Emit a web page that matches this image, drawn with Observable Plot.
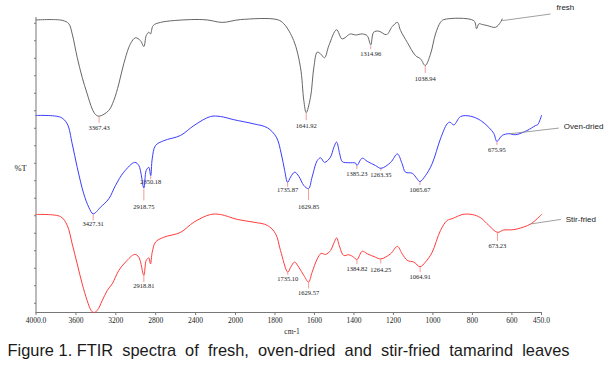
<!DOCTYPE html>
<html><head><meta charset="utf-8">
<script src="https://cdn.jsdelivr.net/npm/d3@7"></script>
<script src="https://cdn.jsdelivr.net/npm/@observablehq/plot@0.6"></script>
<style>
body{margin:0;background:#fff;}
#chart{width:614px;}
#cap{font:16.4px "Liberation Sans",Arial,sans-serif;white-space:pre;line-height:24px;height:37px;padding-left:7.5px;color:#1a1a1a;}
</style></head><body><div id="chart"></div><div id="cap"></div><script>
// x axis: wavenumber (cm-1), split scale at 2000
const xTicks = [4000,3600,3200,2800,2400,2000,1800,1600,1400,1200,1000,800,600,450];
// y axis: %T (arbitrary, unlabeled)
const yTicks = [2.65,7.65,12.65,17.65,22.65,27.65,32.65,37.65,42.65,47.65,52.65,57.65,62.65,67.65,72.65,77.65,82.65];
const yTop = 84.3;

const fresh = [[4000,83.6],[3738,83.5],[3671,82.5],[3637,79.6],[3587,72.9],[3537,67.2],[3487,62.5],[3437,58.2],[3404,56.6],[3367,56.1],[3272,57.7],[3220,60.6],[3170,65.3],[3120,71.1],[3053,76.8],[3003,78.5],[2953,77.7],[2919,76.0],[2895,79.1],[2869,80.1],[2852,79.6],[2825,82.0],[2752,82.9],[2451,83.7],[2284,83.6],[2133,82.9],[1975,83.7],[1789,83.7],[1755,82.5],[1705,77.7],[1671,70.1],[1654,60.6],[1642,57.1],[1620,61.5],[1603,70.1],[1586,74.4],[1569,73.9],[1549,72.8],[1527,76.3],[1488,80.8],[1460,78.2],[1418,79.6],[1392,79.3],[1358,79.6],[1333,79.1],[1315,76.5],[1300,80.1],[1274,80.4],[1235,79.4],[1206,81.7],[1180,82.9],[1164,80.6],[1130,77.2],[1088,73.4],[1063,72.5],[1039,70.6],[1012,73.9],[987,79.6],[962,82.9],[945,83.7],[793,83.4],[779,81.1],[767,82.5],[750,82.3],[725,82.0],[683,81.5],[658,82.9],[649,83.9]];

const ovenDried = [[4000,56.3],[3754,55.8],[3687,53.9],[3637,48.2],[3587,41.5],[3521,33.9],[3471,30.1],[3427,28.2],[3353,30.1],[3270,32.5],[3203,36.3],[3120,40.1],[3010,42.9],[2969,42.0],[2919,35.6],[2895,40.6],[2869,41.5],[2850,39.1],[2835,43.9],[2802,47.7],[2719,49.1],[2551,50.6],[2418,53.4],[2251,56.0],[2150,56.0],[2017,55.1],[1907,53.9],[1839,52.8],[1793,50.1],[1768,45.3],[1751,40.6],[1736,37.2],[1721,38.7],[1700,40.1],[1679,38.9],[1654,36.3],[1630,35.4],[1612,38.7],[1586,43.4],[1569,44.2],[1549,42.9],[1519,44.4],[1502,47.2],[1488,48.7],[1472,45.3],[1459,43.1],[1426,42.8],[1392,42.7],[1385,42.0],[1358,44.1],[1333,43.2],[1291,42.0],[1263,41.2],[1214,42.9],[1180,45.3],[1156,42.5],[1139,40.1],[1105,39.8],[1080,38.2],[1066,37.4],[1038,39.1],[1004,42.5],[962,49.6],[928,53.9],[914,54.4],[894,53.6],[860,56.0],[810,56.1],[759,54.9],[717,52.9],[691,51.1],[676,48.9],[649,50.6],[615,51.1],[582,50.8],[523,52.0],[481,53.4],[469,53.7],[450,56.3]];

const stirFried = [[4000,28.0],[3754,27.4],[3687,24.9],[3637,19.6],[3587,13.9],[3537,8.2],[3487,3.4],[3447,0.6],[3421,0.0],[3386,0.6],[3336,3.4],[3286,6.3],[3236,8.2],[3170,12.0],[3103,14.4],[3010,16.6],[2969,15.8],[2919,10.6],[2895,14.9],[2869,15.6],[2852,13.9],[2835,17.2],[2802,20.1],[2719,21.5],[2551,22.9],[2418,25.8],[2251,28.0],[2150,28.0],[1991,26.6],[1907,25.8],[1839,24.9],[1797,22.5],[1772,17.7],[1735,11.5],[1721,12.9],[1701,14.4],[1679,12.9],[1654,10.6],[1630,8.7],[1612,11.5],[1586,15.3],[1566,16.9],[1544,16.6],[1519,17.7],[1502,19.8],[1488,21.3],[1472,18.7],[1452,16.3],[1426,16.5],[1401,15.8],[1385,15.1],[1358,17.5],[1333,16.8],[1291,15.8],[1264,15.3],[1214,16.8],[1180,18.9],[1156,16.8],[1130,14.9],[1097,14.4],[1065,13.1],[1038,14.4],[1004,17.2],[962,23.4],[928,26.3],[903,26.8],[886,27.2],[852,28.0],[801,28.0],[759,27.1],[717,24.9],[673,22.9],[641,23.6],[606,23.6],[572,23.9],[505,25.3],[450,28.0]];

// labelled peaks [wavenumber, %T at minimum]
const freshPeaks = [[3367.43,56.1],[1641.92,57.1],[1314.96,76.5],[1038.94,70.6]];
const ovenPeaks = [[3427.31,28.2],[2918.75,35.6],[2850.18,39.1],[1735.87,37.2],[1629.85,35.4],[1385.23,42.0],[1263.35,41.2],[1065.67,37.4],[675.95,48.9]];
const stirPeaks = [[2918.81,10.6],[1735.10,11.5],[1629.57,8.7],[1384.82,15.1],[1264.25,15.3],[1064.91,13.1],[673.23,22.9]];
// marker lengths and label drops (px)
const freshMark = [7,8,5,8], freshDrop = [11.7,13.7,9,13];
const ovenMark = [7,13,4,5,12,4,3,4,4], ovenDrop = [10.5,18.5,6.5,8,18,8.5,6.5,8.5,8.5];
const stirMark = [7,3,7,5,5,6,9], stirDrop = [10,6.5,11,9.7,10.7,10.7,13.3];

const seriesNames = ["fresh","Oven-dried","Stir-fried"];
const seriesColors = ["#666666","#3c3cff","#ff3c3c"];
// leader lines: curve point -> end point, label start
const legend = [
  {name:"fresh", wn:649, v:83.4, wn2:404, v2:85.3, tw:374, tv:87.2},
  {name:"Oven-dried", wn:607, v:51.1, wn2:362, v2:52.7, tw:337, tv:53.1},
  {name:"Stir-fried", wn:505, v:25.3, wn2:352, v2:26.6, tw:327, tv:26.6}
];

const K = (312-17)/yTop; // px per unit
const serif = "'Liberation Serif', 'Times New Roman', serif";
const markColor = "#f29a9a";

function peakMarks(peaks, mark, drop){
  return [
    Plot.ruleX(peaks, {x: d=>d[0], y1: d=>d[1]-1/K, y2: (d,i)=>d[1]-mark[i]/K, stroke: markColor, strokeWidth: 1}),
    Plot.text(peaks, {x: d=>d[0], y: (d,i)=>d[1]-drop[i]/K, text: d=>d[0].toFixed(2), fontSize: 6.5, fontFamily: serif, fill: "#222", lineAnchor: "middle"})
  ];
}

const data = [fresh, ovenDried, stirFried];
const chart = Plot.plot({
  width: 614, height: 338,
  marginLeft: 36, marginRight: 73, marginTop: 17, marginBottom: 26,
  style: {background: "#fff", fontFamily: serif},
  x: {type: "linear", domain: [4000, 2000, 450], range: [35.5, 235, 541]},
  y: {domain: [0, yTop], range: [312, 17]},
  marks: [
    Plot.axisX({ticks: xTicks, tickFormat: d => (d===4000||d===450) ? d.toFixed(1) : String(d), tickSize: 3, tickPadding: 2.5, fontSize: 7.5, fontFamily: serif, stroke: "#777", fill: "#222", label: null}),
    Plot.axisY({ticks: yTicks, tickSize: 2, tickFormat: () => "", stroke: "#777", label: null}),
    Plot.ruleX([4000], {y1: 0, y2: yTop, stroke: "#777"}),
    Plot.ruleY([0], {x1: 4000, x2: 450, stroke: "#777"}),
    ...peakMarks(freshPeaks, freshMark, freshDrop),
    ...peakMarks(ovenPeaks, ovenMark, ovenDrop),
    ...peakMarks(stirPeaks, stirMark, stirDrop),
    ...data.map((s,i) => Plot.line(s, {x: d=>d[0], y: d=>d[1], stroke: seriesColors[i], strokeWidth: 1, curve: "catmull-rom"})),
    Plot.link(legend, {x1: "wn", y1: "v", x2: "wn2", y2: "v2", stroke: "#888", strokeWidth: 0.8}),
    Plot.text(legend, {x: "tw", y: "tv", text: "name", textAnchor: "start", fontSize: 8, fontFamily: "'Liberation Sans', Arial, sans-serif", fill: "#222"}),
    Plot.text(["%T"], {frameAnchor: "left", dx: -22, dy: 3.5, fontSize: 8.5, fontFamily: serif, fill: "#222"}),
    Plot.text(["cm-1"], {frameAnchor: "bottom", dx: 3, dy: 21, fontSize: 7.5, fontFamily: serif, fill: "#222"})
  ]
});
document.getElementById("chart").appendChild(chart);
document.getElementById("cap").textContent = "Figure 1. FTIR  spectra  of  fresh,  oven-dried  and  stir-fried  tamarind  leaves";
</script></body></html>
